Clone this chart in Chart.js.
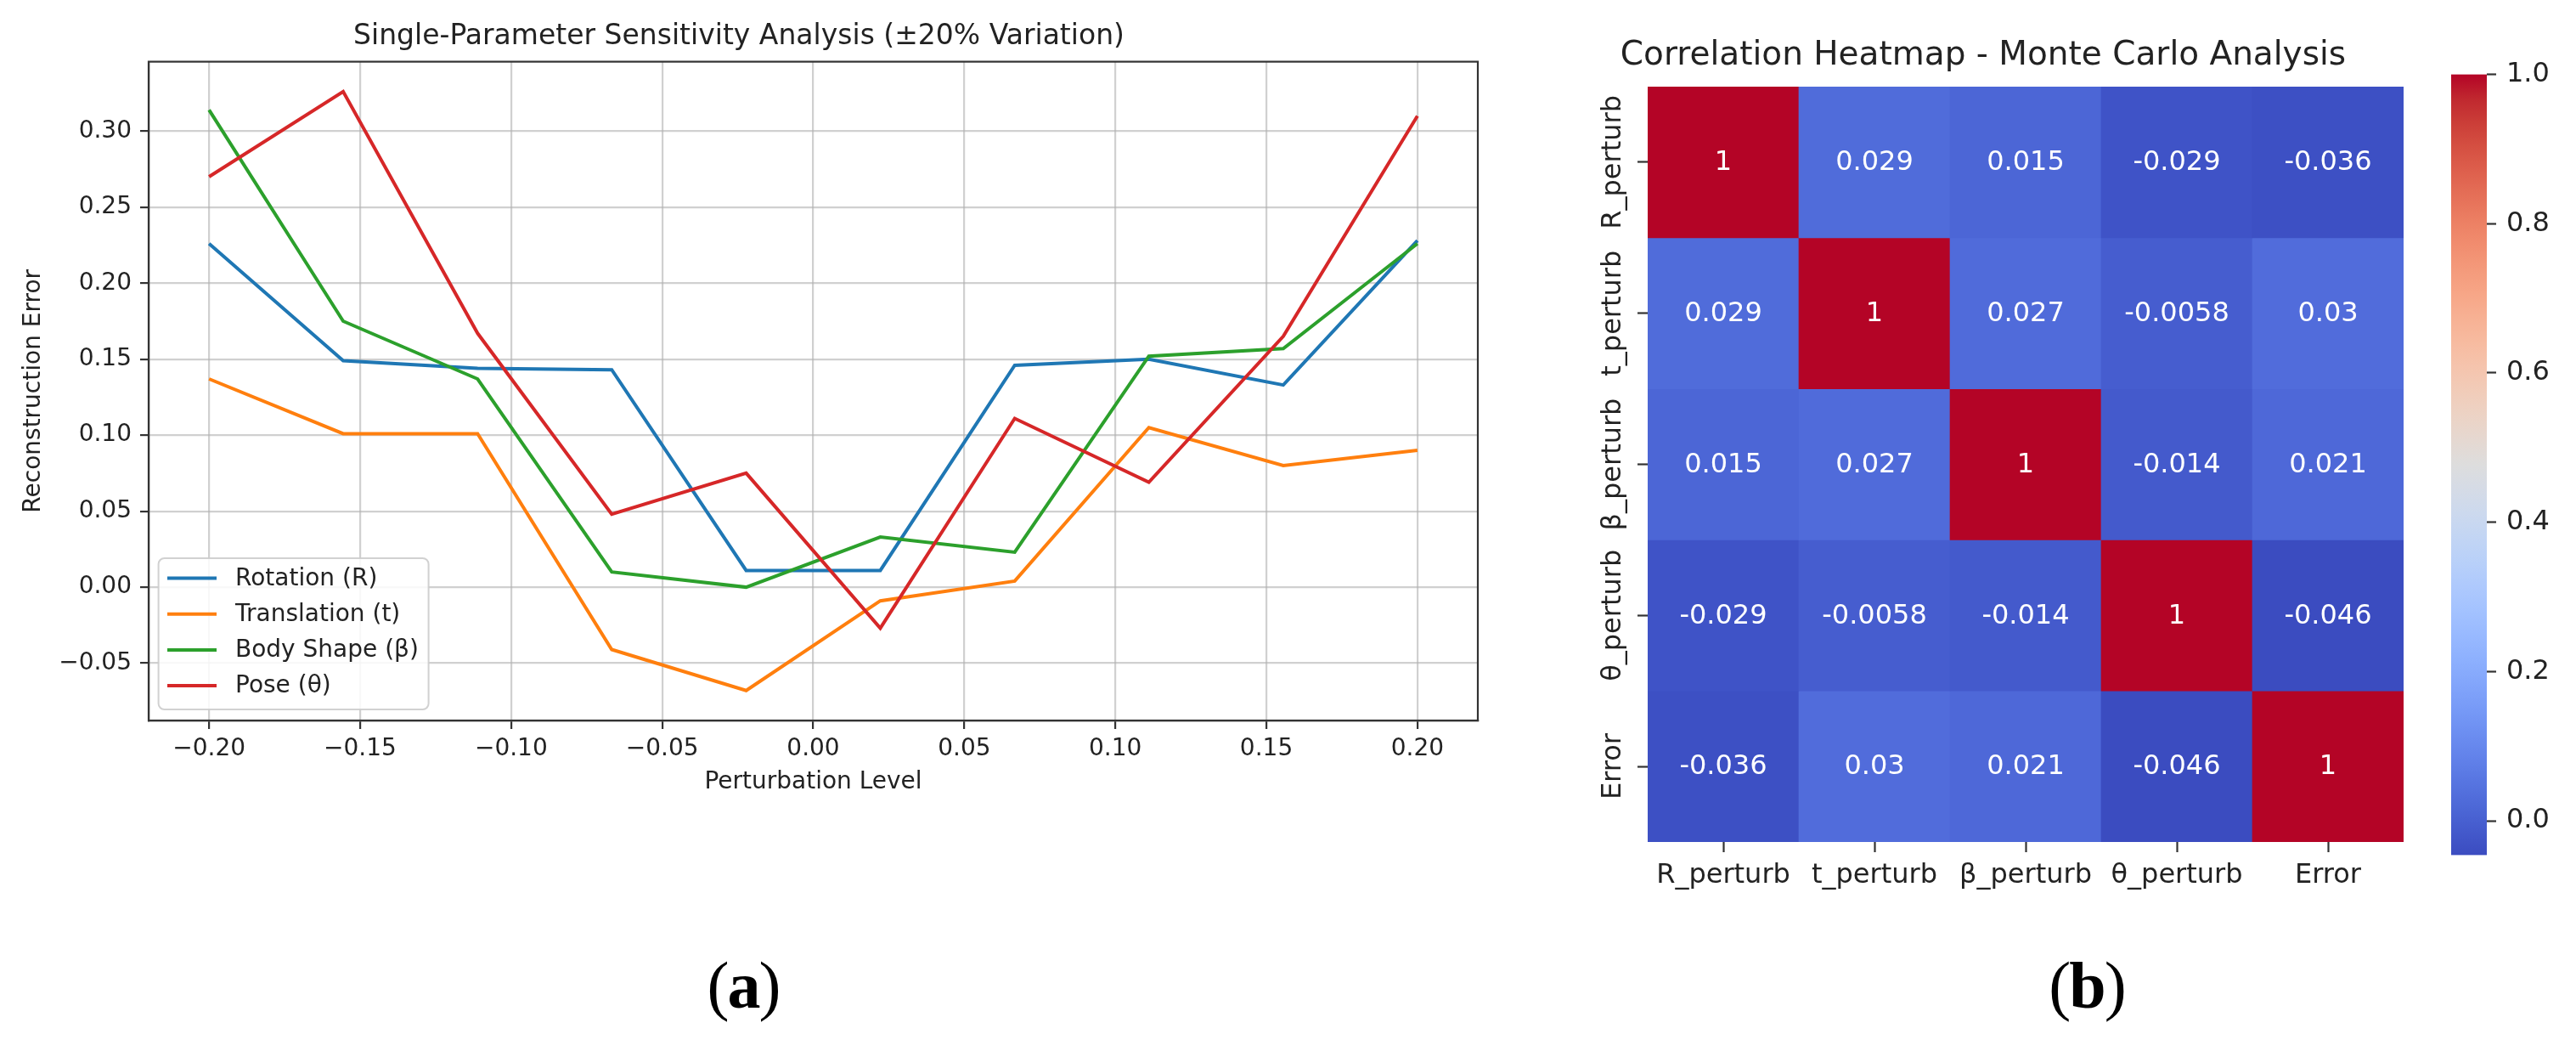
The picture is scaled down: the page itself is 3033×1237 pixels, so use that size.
<!DOCTYPE html>
<html><head><meta charset="utf-8">
<script src="https://cdn.jsdelivr.net/npm/chart.js@4.4.0/dist/chart.umd.min.js"></script>
<style>
html,body{margin:0;padding:0;background:#fff;}
body{width:3033px;height:1237px;position:relative;overflow:hidden;}
canvas{position:absolute;}
.lab{position:absolute;width:200px;text-align:center;font-family:'Liberation Serif','Times New Roman',serif;font-size:78px;line-height:1;color:#000;letter-spacing:-2px;}
.lab span{font-weight:normal;}
</style></head><body>
<canvas id="line" width="1915" height="960" style="left:0;top:0;width:1915px;height:960px"></canvas>
<canvas id="heat" width="1090" height="1080" style="left:1840px;top:0;width:1090px;height:1080px"></canvas>
<canvas id="cbar" width="173" height="1237" style="left:2860px;top:0;width:173px;height:1237px"></canvas>
<div class="lab" style="left:775px;top:1121px"><span>(</span><b>a</b><span>)</span></div>
<div class="lab" style="left:2357px;top:1121px"><span>(</span><b>b</b><span>)</span></div>
<script>
// ---------- data: panel (a) ----------
const perturbLevels = [-0.2, -0.1556, -0.1111, -0.0667, -0.0222, 0.0222, 0.0667, 0.1111, 0.1556, 0.2];
const seriesNames = ['Rotation (R)', 'Translation (t)', 'Body Shape (\u03b2)', 'Pose (\u03b8)'];
const rotationErr    = [0.226, 0.149, 0.144, 0.143, 0.011, 0.011, 0.146, 0.150, 0.133, 0.228];
const translationErr = [0.137, 0.101, 0.101, -0.041, -0.068, -0.009, 0.004, 0.105, 0.080, 0.090];
const bodyShapeErr   = [0.314, 0.175, 0.137, 0.010, 0.000, 0.033, 0.023, 0.152, 0.157, 0.226];
const poseErr        = [0.270, 0.326, 0.167, 0.048, 0.075, -0.027, 0.111, 0.069, 0.165, 0.310];
const seriesColors = ['#1f77b4', '#ff7f0e', '#2ca02c', '#d62728'];
const errTicks = [-0.05, 0, 0.05, 0.10, 0.15, 0.20, 0.25, 0.30];
const levelTicks = [-0.20, -0.15, -0.10, -0.05, 0, 0.05, 0.10, 0.15, 0.20];

// ---------- data: panel (b) ----------
const heatLabels = ['R_perturb', 't_perturb', '\u03b2_perturb', '\u03b8_perturb', 'Error'];
const corrR  = [1, 0.029, 0.015, -0.029, -0.036];
const corrT  = [0.029, 1, 0.027, -0.0058, 0.03];
const corrB  = [0.015, 0.027, 1, -0.014, 0.021];
const corrTh = [-0.029, -0.0058, -0.014, 1, -0.046];
const corrE  = [-0.036, 0.03, 0.021, -0.046, 1];
const cbarTicks = [0, 0.2, 0.4, 0.6, 0.8, 1.0];

// coolwarm colormap (matplotlib segment data)
const CW_R = [0.2298057,0.26623388,0.30386891,0.342804478,0.38301334,0.424369608,0.46666708,0.509635204,0.552953156,0.596262162,0.639176211,0.681291281,0.722193294,0.761464949,0.798691636,0.833466556,0.865395197,0.897787179,0.924127593,0.944468518,0.958852946,0.96732803,0.969954137,0.966811177,0.958003065,0.943660866,0.923944917,0.89904617,0.869186849,0.834620542,0.795631745,0.752534934,0.705673158];
const CW_G = [0.298717966,0.353094838,0.406535296,0.458757618,0.50941904,0.558148092,0.604562568,0.648280772,0.688929332,0.726149107,0.759599947,0.788964712,0.813952739,0.834302879,0.849786142,0.860207984,0.86541021,0.848937047,0.827384882,0.800927443,0.769767752,0.734132809,0.694266682,0.650421156,0.602842431,0.551750968,0.49730856,0.439559467,0.378313092,0.312874446,0.24128379,0.157246067,0.01555616];
const CW_B = [0.753683153,0.801466763,0.84495867,0.883725899,0.917387822,0.945619588,0.968154911,0.98478814,0.995375608,0.999836203,0.998151185,0.990363227,0.976574709,0.956945269,0.931688648,0.901068838,0.865395561,0.820880546,0.774508472,0.726736146,0.678007945,0.628751763,0.579375448,0.530263762,0.481775914,0.434243684,0.387970225,0.343229596,0.300267182,0.259301199,0.220525627,0.184115123,0.150232812];
function coolwarm(t){
  t = Math.max(0, Math.min(1, t));
  const p = t * 32, i = Math.min(31, Math.floor(p)), f = p - i;
  const c = a => Math.round(255 * (a[i] + (a[i+1] - a[i]) * f));
  return 'rgb(' + c(CW_R) + ',' + c(CW_G) + ',' + c(CW_B) + ')';
}

const FONT = "'DejaVu Sans', 'Noto Sans', sans-serif";
Chart.defaults.font.family = FONT;
Chart.defaults.color = '#222';
const TXT = '#222';
const fmtMinus = v => (v < -1e-9 ? '\u2212' : '') + Math.abs(v).toFixed(2);

// ---------- panel (a) ----------
const errSeries = [rotationErr, translationErr, bodyShapeErr, poseErr];

const framePlugin = {
  id: 'frame',
  afterDatasetsDraw(chart){
    const a = chart.chartArea, ctx = chart.ctx;
    ctx.save();
    ctx.strokeStyle = '#333'; ctx.lineWidth = 2.2;
    ctx.strokeRect(a.left, a.top, a.right - a.left, a.bottom - a.top);
    ctx.restore();
  }
};
const legendPlugin = {
  id: 'mplLegend',
  afterDraw(chart){
    const a = chart.chartArea, ctx = chart.ctx;
    const ds = chart.data.datasets;
    const bx = a.left + 11.6, bw = 318, bh = 178, by = a.bottom - 13 - bh;
    ctx.save();
    ctx.beginPath();
    ctx.roundRect(bx, by, bw, bh, 7);
    ctx.fillStyle = 'rgba(255,255,255,0.85)';
    ctx.fill();
    ctx.strokeStyle = 'rgba(204,204,204,0.9)'; ctx.lineWidth = 2;
    ctx.stroke();
    ctx.font = '28px ' + FONT;
    ctx.textBaseline = 'middle'; ctx.textAlign = 'left';
    ds.forEach((d, k) => {
      const y = by + 23.5 + k * 42.2;
      ctx.strokeStyle = d.borderColor; ctx.lineWidth = 4;
      ctx.beginPath(); ctx.moveTo(bx + 10.4, y); ctx.lineTo(bx + 68.4, y); ctx.stroke();
      ctx.fillStyle = TXT;
      ctx.fillText(d.label, bx + 90.4, y + 1);
    });
    ctx.restore();
  }
};

new Chart(document.getElementById('line'), {
  type: 'line',
  data: {
    datasets: errSeries.map((arr, k) => ({
      label: seriesNames[k],
      data: perturbLevels.map((x, i) => ({x: x, y: arr[i]})),
      borderColor: seriesColors[k], backgroundColor: seriesColors[k],
      borderWidth: 4, pointRadius: 0, tension: 0, fill: false, order: 4 - k
    }))
  },
  options: {
    responsive: false, animation: false, devicePixelRatio: 1,
    layout: {padding: {left: 0, right: 175, top: 0, bottom: 0}},
    plugins: {
      legend: {display: false}, tooltip: {enabled: false},
      title: {display: true, text: 'Single-Parameter Sensitivity Analysis (\u00b120% Variation)',
        font: {size: 33, weight: 'normal'}, color: TXT, padding: {top: 24, bottom: 9}}
    },
    scales: {
      x: {
        type: 'linear', min: -0.22, max: 0.22,
        afterBuildTicks: s => { s.ticks = levelTicks.map(v => ({value: v})); },
        afterFit: s => { s.height = 112; },
        ticks: {callback: v => fmtMinus(v), font: {size: 28}, padding: 7, color: TXT, maxRotation: 0, autoSkip: false},
        grid: {color: 'rgba(176,176,176,0.6)', lineWidth: 2.2, tickLength: 10, tickColor: '#333', tickWidth: 2.2},
        border: {display: true, color: '#333', width: 2.2},
        title: {display: true, text: 'Perturbation Level', font: {size: 28}, color: TXT, padding: {top: 0, bottom: 22}}
      },
      y: {
        type: 'linear', min: -0.0877, max: 0.3457,
        afterBuildTicks: s => { s.ticks = errTicks.map(v => ({value: v})); },
        afterFit: s => { s.width = 175; },
        ticks: {callback: v => fmtMinus(v), font: {size: 28}, padding: 10, color: TXT, autoSkip: false},
        grid: {color: 'rgba(176,176,176,0.6)', lineWidth: 2.2, tickLength: 10, tickColor: '#333', tickWidth: 2.2},
        border: {display: true, color: '#333', width: 2.2},
        title: {display: true, text: 'Reconstruction Error', font: {size: 28}, color: TXT, padding: {top: 23, bottom: 0}}
      }
    }
  },
  plugins: [framePlugin, legendPlugin]
});

// ---------- panel (b) ----------
const corrRows = [corrR, corrT, corrB, corrTh, corrE];
const allCorr = corrRows.flat();
const vmin = Math.min(...allCorr), vmax = Math.max(...allCorr);
const norm = v => (v - vmin) / (vmax - vmin);
const fmtAnnot = v => String(Number(v.toPrecision(2)));

const annotPlugin = {
  id: 'annot',
  afterDraw(chart){
    const ctx = chart.ctx, xs = chart.scales.x, ys = chart.scales.y;
    ctx.save();
    ctx.font = '32px ' + FONT; ctx.fillStyle = '#fff';
    ctx.textAlign = 'center'; ctx.textBaseline = 'middle';
    corrRows.forEach((row, i) => row.forEach((v, j) => {
      ctx.fillText(fmtAnnot(v), xs.getPixelForValue(j), ys.getPixelForValue(i + 0.5) + 1);
    }));
    // rotated y tick labels (seaborn style)
    ctx.fillStyle = TXT;
    ys.ticks.forEach((t, i) => {
      ctx.save();
      ctx.translate(ys.right - 40, ys.getPixelForValue(t.value));
      ctx.rotate(-Math.PI / 2);
      ctx.fillText(heatLabels[i], 0, 0);
      ctx.restore();
    });
    ctx.restore();
  }
};

new Chart(document.getElementById('heat'), {
  type: 'bar',
  data: {
    labels: heatLabels,
    datasets: corrRows.map((row, i) => ({
      label: heatLabels[i],
      data: row.map(() => [i, i + 1]),
      backgroundColor: row.map(v => coolwarm(norm(v))),
      borderWidth: 0, grouped: false, barPercentage: 1, categoryPercentage: 1
    }))
  },
  options: {
    responsive: false, animation: false, devicePixelRatio: 1,
    layout: {padding: {left: 0, right: 100, top: 0, bottom: 0}},
    plugins: {
      legend: {display: false}, tooltip: {enabled: false},
      title: {display: true, text: 'Correlation Heatmap - Monte Carlo Analysis',
        font: {size: 39, weight: 'normal'}, color: TXT, padding: {top: 42.6, bottom: 12.6}}
    },
    scales: {
      x: {
        type: 'category', offset: true,
        afterFit: s => { s.height = 89; },
        ticks: {font: {size: 32}, padding: 8, color: TXT, maxRotation: 0, autoSkip: false},
        grid: {offset: false, drawOnChartArea: false, drawTicks: true, tickLength: 12, tickColor: '#333', tickWidth: 2.2},
        border: {display: false}
      },
      y: {
        type: 'linear', min: 0, max: 5, reverse: true,
        afterBuildTicks: s => { s.ticks = heatLabels.map((_, i) => ({value: i + 0.5})); },
        afterFit: s => { s.width = 100; },
        ticks: {display: false},
        grid: {drawOnChartArea: false, drawTicks: true, tickLength: 12, tickColor: '#333', tickWidth: 2.2},
        border: {display: false}
      }
    }
  },
  plugins: [annotPlugin]
});

// ---------- colorbar ----------
new Chart(document.getElementById('cbar'), {
  type: 'bar',
  data: {
    labels: [''],
    datasets: [{
      data: [[vmin, vmax]],
      backgroundColor: c => {
        const ch = c.chart, ys = ch.scales.y;
        if (!ch.chartArea || !ys) return coolwarm(0.5);
        const g = ch.ctx.createLinearGradient(0, ys.getPixelForValue(vmin), 0, ys.getPixelForValue(vmax));
        for (let k = 0; k <= 32; k++) g.addColorStop(k / 32, coolwarm(k / 32));
        return g;
      },
      borderWidth: 0, barPercentage: 1, categoryPercentage: 1
    }]
  },
  options: {
    responsive: false, animation: false, devicePixelRatio: 1,
    layout: {padding: {left: 26, right: 0, top: 87.5, bottom: 230.5}},
    plugins: {legend: {display: false}, tooltip: {enabled: false}},
    scales: {
      x: {display: false},
      y: {
        position: 'right', min: vmin, max: vmax,
        afterBuildTicks: s => { s.ticks = cbarTicks.map(v => ({value: v})); },
        afterFit: s => { s.width = 105; },
        ticks: {callback: v => v.toFixed(1), font: {size: 32}, padding: 12, color: TXT},
        grid: {drawOnChartArea: false, drawTicks: true, tickLength: 11, tickColor: '#333', tickWidth: 2.2},
        border: {display: false}
      }
    }
  }
});
</script>
</body></html>
